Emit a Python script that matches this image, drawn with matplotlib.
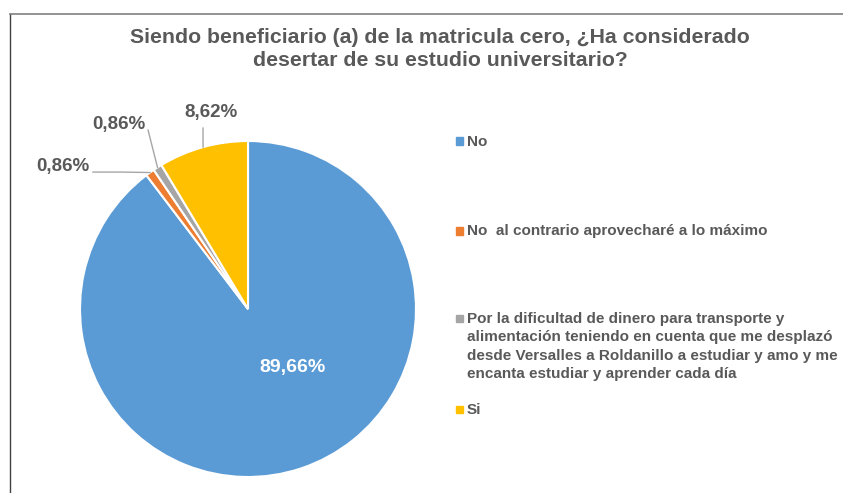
import numpy as np
import matplotlib
matplotlib.use("Agg")
from matplotlib import pyplot as plt
from matplotlib.lines import Line2D
from matplotlib.patches import Rectangle

plt.rcParams["font.family"] = ["Liberation Sans", "DejaVu Sans"]

categories = ["No",
              "No  al contrario aprovecharé a lo máximo",
              "Por la dificultad de dinero para transporte y\nalimentación teniendo en cuenta que me desplazó\n"
              "desde Versalles a Roldanillo a estudiar y amo y me\nencanta estudiar y aprender cada día",
              "Si"]
values = [89.66, 0.86, 0.86, 8.62]
pct_labels = ["89,66%", "0,86%", "0,86%", "8,62%"]
colors = ["#5B9BD5", "#ED7D31", "#A5A5A5", "#FFC000"]
title = "Siendo beneficiario (a) de la matricula cero, ¿Ha considerado\ndesertar de su estudio universitario?"

W, H = 843, 493
fig = plt.figure(figsize=(W / 100, H / 100), dpi=100)
txt_col = "#595959"

# pie axes: center (248, 309) px, radius 168 px
cx, cy, r = 248, 309, 168
ax = fig.add_axes([(cx - r) / W, (H - cy - r) / H, 2 * r / W, 2 * r / H])
wedges, _ = ax.pie(values, colors=colors, startangle=90, counterclock=False,
                   wedgeprops=dict(edgecolor="white", linewidth=1.5))
ax.set_xlim(-1, 1)
ax.set_ylim(-1, 1)
ax.set_aspect("auto")
ax.axis("off")

# label positions and leader line starts (data coords)
text_pos = [(0.262, -0.351), (-1.101, 0.851), (-0.768, 1.101), (-0.220, 1.167)]
line_start = [None, (-0.923, 0.815), (-0.595, 1.065), (-0.268, 1.077)]
for i, w in enumerate(wedges):
    mid = np.deg2rad((w.theta1 + w.theta2) / 2)
    px, py = np.cos(mid), np.sin(mid)
    if i == 0:
        ax.text(*text_pos[i], pct_labels[i], color="white", fontsize=14,
                fontweight="bold", ha="center", va="center")
        continue
    tx, ty = text_pos[i]
    ax.text(tx, ty, pct_labels[i], color=txt_col, fontsize=13.5,
            fontweight="bold", ha="center", va="center", clip_on=False)
    sx, sy = line_start[i]
    if i == 1:
        ax.plot([sx, -0.75, px], [sy, sy, py], color="#A6A6A6", lw=1, clip_on=False)
    else:
        ax.plot([sx, px], [sy, py], color="#A6A6A6", lw=1, clip_on=False)

# title
fig.text(0.522, 1 - 49 / H, title, ha="center", va="center", fontsize=15.3,
         fontweight="bold", color=txt_col, linespacing=1.22)

# legend
leg_y = [141, 231, 318, 409]
for lab, col, y in zip(categories, colors, leg_y):
    fig.patches.append(Rectangle((456 / W, 1 - (y + 3.5) / H), 7 / W, 7 / H,
                                 transform=fig.transFigure, color=col))
    fig.text(467 / W, 1 - (y - 6.5) / H, lab, ha="left", va="top", fontsize=11,
             fontweight="bold", color=txt_col, linespacing=1.42)

# frame
fig.add_artist(Line2D([10 / W, 10 / W], [0, 1 - 14 / H], color="#404040", lw=1))
fig.add_artist(Line2D([10 / W, 1], [1 - 14 / H, 1 - 14 / H], color="#808080", lw=1.2))

fig.savefig("out.png", dpi=100)
